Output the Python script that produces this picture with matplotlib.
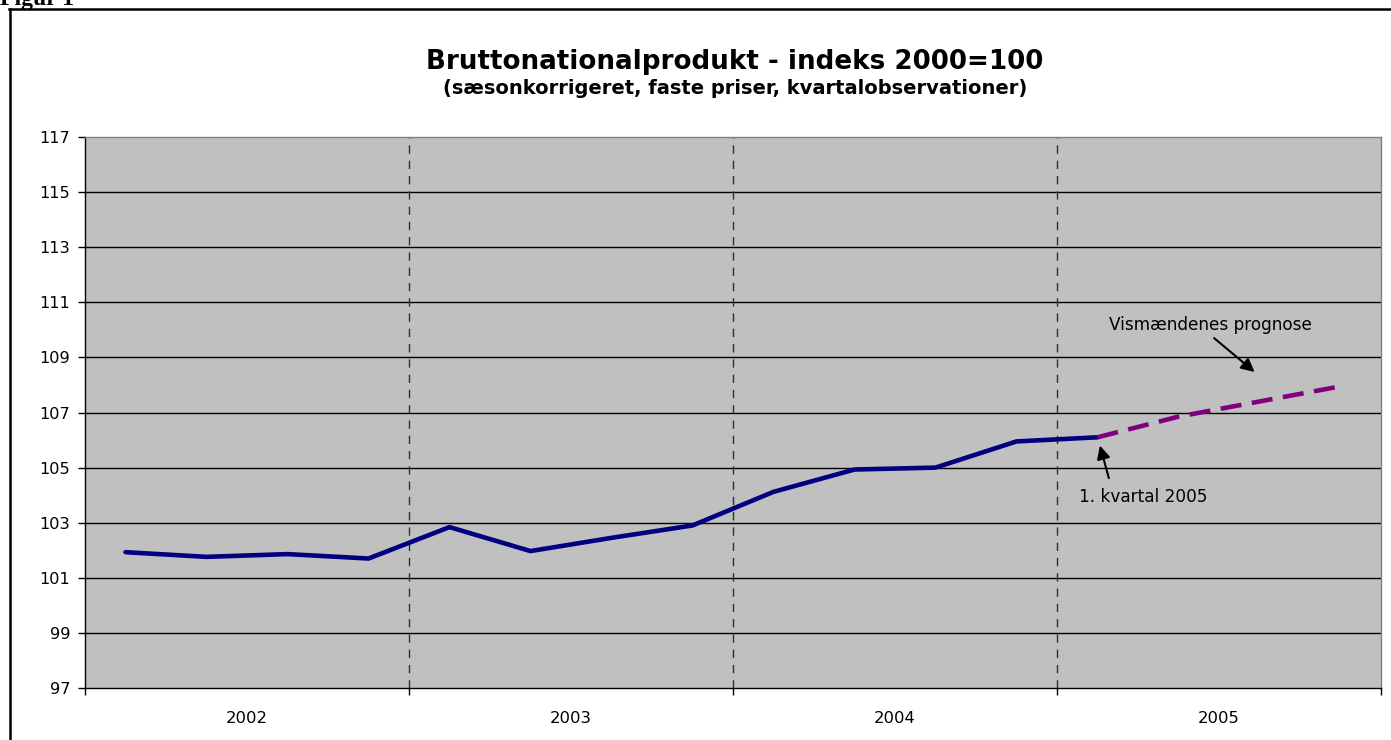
import matplotlib
matplotlib.use("Agg")
import matplotlib.pyplot as plt
from matplotlib.lines import Line2D

# ---- data ----
years = ["2002", "2003", "2004", "2005"]
quarters_per_year = 4
observed = [101.93, 101.76, 101.86, 101.70,
            102.84, 101.97, 102.45, 102.90,
            104.12, 104.93, 105.00, 105.95,
            106.10]
forecast = [106.10, 106.85, 107.40, 107.95]   # 2005Q1..2005Q4
y_ticks = [97, 99, 101, 103, 105, 107, 109, 111, 113, 115, 117]

W, H = 1391, 740
fig = plt.figure(figsize=(W / 100, H / 100), dpi=100)
plt.rcParams['font.family'] = ['DejaVu Sans']

ax = fig.add_axes([85 / W, 1 - 688 / H, (1381 - 85) / W, (688 - 137) / H])
ax.set_facecolor('#C0C0C0')

n_q = len(years) * quarters_per_year
obs_x = [i + 0.5 for i in range(len(observed))]
fc_x = [len(observed) - 1 + i + 0.5 for i in range(len(forecast))]

ax.set_xlim(0, n_q)
ax.set_ylim(y_ticks[0], y_ticks[-1])

# grid lines
for v in y_ticks[1:-1]:
    ax.axhline(v, color='black', lw=1.0, zorder=1)
for k in range(1, len(years)):
    ax.axvline(k * quarters_per_year, color='#303030', lw=1.0,
               linestyle=(0, (6, 5)), zorder=1)

ax.plot(obs_x, observed, color='#000080', lw=3.3, solid_capstyle='round',
        solid_joinstyle='miter', zorder=3)
ax.plot(fc_x, forecast, color='#800080', lw=3.3, linestyle=(0, (4.6, 2.3)),
        zorder=3)

# axes styling
ax.set_yticks(y_ticks)
ax.set_yticklabels([str(v) for v in y_ticks], fontsize=11.6)
ax.tick_params(axis='y', direction='out', length=5, width=1, color='black', pad=5.5)
ax.set_xticks([k * quarters_per_year for k in range(len(years) + 1)])
ax.set_xticklabels([''] * (len(years) + 1))
ax.tick_params(axis='x', direction='out', length=5, width=1, color='black')
ax.set_xticks([k * quarters_per_year + 2 for k in range(len(years))], minor=True)
ax.set_xticklabels(years, minor=True, fontsize=11.8)
ax.tick_params(axis='x', which='minor', length=0, pad=16.5)

ax.spines['left'].set_color('black')
ax.spines['bottom'].set_color('black')
ax.spines['top'].set_color('#808080')
ax.spines['right'].set_color('#808080')
for s in ax.spines.values():
    s.set_linewidth(1.0)

# annotations
arrow_kw = dict(arrowstyle='-|>', color='black', lw=1.5,
                mutation_scale=20, shrinkA=0, shrinkB=0)
ax.text(13.89, 110.18, 'Vismændenes prognose', fontsize=12.2,
        ha='center', va='center')
ax.annotate('', xy=(14.44, 108.47), xytext=(13.94, 109.70), arrowprops=arrow_kw)
ax.text(13.07, 103.93, '1. kvartal 2005', fontsize=12.2,
        ha='center', va='center')
ax.annotate('', xy=(12.53, 105.80), xytext=(12.64, 104.62), arrowprops=arrow_kw)

# titles
fig.text(735 / W, 1 - 62 / H, 'Bruttonationalprodukt - indeks 2000=100',
         ha='center', va='center', fontsize=18.8, fontweight='bold')
fig.text(735 / W, 1 - 88 / H, '(sæsonkorrigeret, faste priser, kvartalobservationer)',
         ha='center', va='center', fontsize=14, fontweight='bold')

# outer frame and cut-off caption
fig.add_artist(Line2D([9 / W, 1.0], [1 - 8.5 / H, 1 - 8.5 / H],
                      transform=fig.transFigure, color='black', lw=1.8))
fig.add_artist(Line2D([9.5 / W, 9.5 / W], [0.0, 1 - 8.5 / H],
                      transform=fig.transFigure, color='black', lw=1.8))
fig.text(0 / W, 1 - 5 / H, 'Figur 1', ha='left', va='baseline',
         fontsize=17, fontweight='bold', family=['Liberation Serif', 'DejaVu Serif'])

fig.savefig('out.png', dpi=100)
